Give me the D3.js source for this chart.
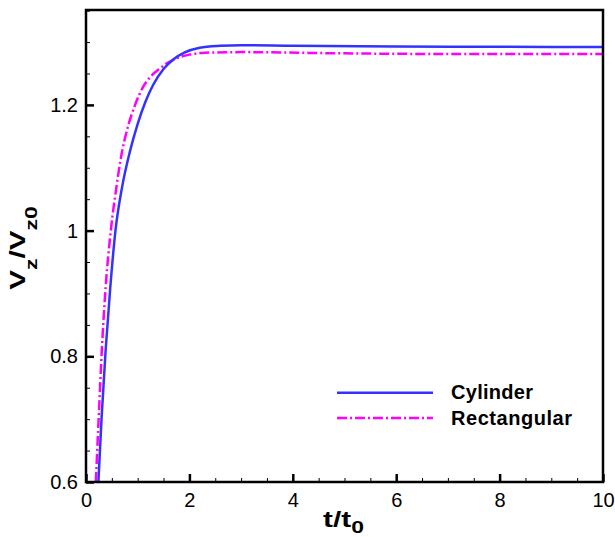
<!DOCTYPE html>
<html>
<head>
<meta charset="utf-8">
<script src="https://cdn.jsdelivr.net/npm/d3@7"></script>
<style>
  body { margin: 0; background: #fff; }
  svg text { font-family: "Liberation Sans", Arial, Helvetica, sans-serif; }
</style>
</head>
<body>
<svg id="chart"></svg>
<script>
/* data */
const cylT = [0.24, 0.30, 0.38, 0.47, 0.57, 0.70, 0.85, 1.0, 1.15, 1.3, 1.5, 1.7, 1.9, 2.2, 2.6, 3.0, 4, 6, 8, 10];
const cylV = [0.6, 0.70, 0.81, 0.91, 1.0, 1.07, 1.126, 1.170, 1.205, 1.232, 1.257, 1.273, 1.283, 1.291, 1.294, 1.295, 1.294, 1.293, 1.2925, 1.292];
const recT = [0.19, 0.25, 0.30, 0.38, 0.48, 0.59, 0.68, 0.8, 0.95, 1.1, 1.25, 1.4, 1.56, 1.75, 2.0, 2.3, 3, 5, 7, 10];
const recV = [0.6, 0.71, 0.8, 0.91, 1.0, 1.07, 1.118, 1.162, 1.2, 1.228, 1.245, 1.256, 1.266, 1.274, 1.280, 1.283, 1.284, 1.282, 1.281, 1.281];
const xTicks = [0, 2, 4, 6, 8, 10];
const yTicks = [0.6, 0.8, 1, 1.2];
const seriesNames = ["Cylinder", "Rectangular"];

const W = 615, H = 537;
const margin = { top: 10, right: 12, bottom: 55, left: 86 };
const width = W - margin.left - margin.right,
      height = H - margin.top - margin.bottom;

const svg = d3.select("#chart").attr("width", W).attr("height", H);
const g = svg.append("g").attr("transform", `translate(${margin.left}, ${margin.top})`);

const x = d3.scaleLinear().domain([0, 10]).range([0, width]);
const y = d3.scaleLinear().domain([0.6, 1.351]).range([height, 0]);

/* clip the curves to the frame */
g.append("clipPath").attr("id", "clip")
  .append("rect").attr("width", width).attr("height", height);

/* minor ticks, inward */
g.append("g")
  .attr("transform", `translate(0, ${height})`)
  .call(d3.axisTop(x).tickValues(d3.range(0, 10.01, 0.5)).tickSize(4).tickFormat(""))
  .call(a => a.select(".domain").remove());
g.append("g")
  .call(d3.axisRight(y).tickValues(d3.range(0.6, 1.351, 0.05)).tickSize(4).tickFormat(""))
  .call(a => a.select(".domain").remove());

/* major ticks, inward, labels outside */
const xAxis = g.append("g")
  .attr("transform", `translate(0, ${height})`)
  .call(d3.axisBottom(x).tickValues(xTicks).tickSize(0).tickPadding(11).tickFormat(d3.format("d")));
xAxis.select(".domain").remove();
xAxis.selectAll(".tick line").attr("y2", -8).attr("stroke-width", 2.5);
xAxis.selectAll("text").attr("font-size", 20).attr("fill", "#000");

const yAxis = g.append("g")
  .call(d3.axisLeft(y).tickValues(yTicks).tickSize(0).tickPadding(8).tickFormat(d => d3.format("")(d)));
yAxis.select(".domain").remove();
yAxis.selectAll(".tick line").attr("x2", 8).attr("stroke-width", 2.5);
yAxis.selectAll("text").attr("font-size", 20).attr("fill", "#000");

/* curves */
const line = d3.line()
  .x(d => x(d[0]))
  .y(d => y(d[1]))
  .curve(d3.curveMonotoneX);

const cyl = cylT.map((t, i) => [t, cylV[i]]);
const rec = recT.map((t, i) => [t, recV[i]]);

g.append("path")
  .datum(rec)
  .attr("clip-path", "url(#clip)")
  .attr("fill", "none")
  .attr("stroke", "#ff00ff")
  .attr("stroke-width", 2.5)
  .attr("stroke-dasharray", "10,3,2,3")
  .attr("d", line);

g.append("path")
  .datum(cyl)
  .attr("clip-path", "url(#clip)")
  .attr("fill", "none")
  .attr("stroke", "#3333ff")
  .attr("stroke-width", 2.5)
  .attr("d", line);

/* frame */
g.append("rect")
  .attr("width", width).attr("height", height)
  .attr("fill", "none").attr("stroke", "#000").attr("stroke-width", 2.5);

/* legend */
const legend = g.append("g").attr("transform", `translate(${337 - margin.left}, ${392.7 - margin.top})`);
const styles = [{ c: "#3333ff", dash: null }, { c: "#ff00ff", dash: "10,3,2,3" }];
seriesNames.forEach((name, i) => {
  const row = legend.append("g").attr("transform", `translate(0, ${i * 25.3})`);
  row.append("line")
    .attr("x1", 0).attr("x2", 96)
    .attr("stroke", styles[i].c).attr("stroke-width", 2.5)
    .attr("stroke-dasharray", styles[i].dash);
  row.append("text")
    .attr("x", 114).attr("y", 6.7)
    .attr("font-size", 20).attr("font-weight", "bold")
    .attr("textLength", i === 0 ? 82 : 121)
    .text(name);
});

/* axis titles (the reference glyphs are wider than the font's) */
const xt = svg.append("text")
  .attr("transform", "translate(343.5, 526.7) scale(1.35, 1)")
  .attr("text-anchor", "middle")
  .attr("font-size", 22).attr("font-weight", "bold");
xt.append("tspan").text("t/t");
xt.append("tspan").attr("dy", 6.3).attr("font-size", 17).text("0");

const yt = svg.append("text")
  .attr("transform", "translate(25, 248) rotate(-90) scale(1.35, 1)")
  .attr("text-anchor", "middle")
  .attr("font-size", 22).attr("font-weight", "bold");
yt.append("tspan").text("V");
yt.append("tspan").attr("dy", 12).attr("font-size", 17).text("z");
yt.append("tspan").attr("dy", -12).text("/V");
yt.append("tspan").attr("dy", 12).attr("font-size", 17).text("z0");
</script>
</body>
</html>
